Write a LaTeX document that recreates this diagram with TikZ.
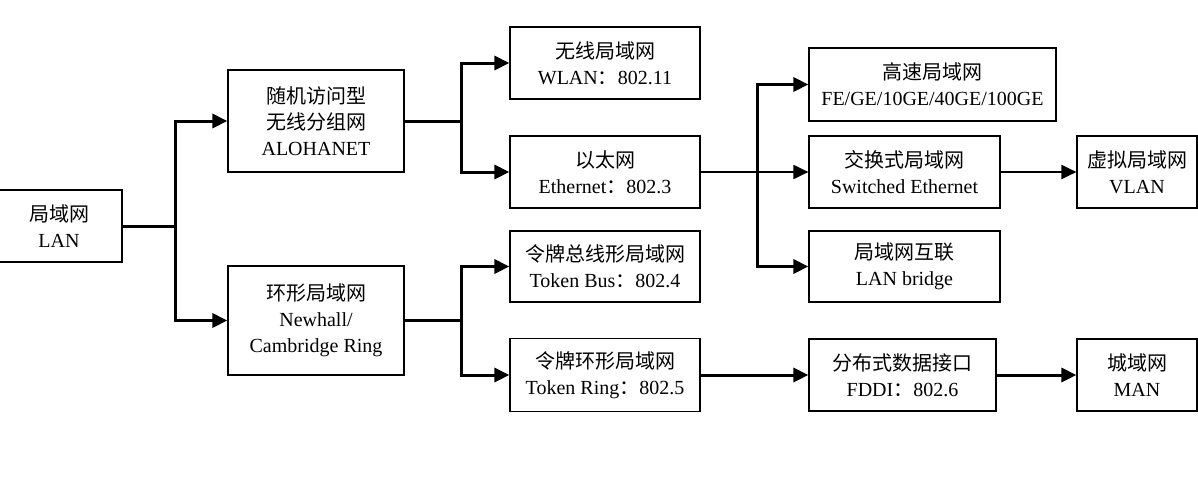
\documentclass[tikz,border=0pt]{standalone}
\usepackage{fontspec}
\setmainfont{Liberation Serif}
\newfontfamily\cjk{Noto Sans CJK SC}
\usetikzlibrary{arrows.meta}
\tikzset{
  netbox/.style={
    rectangle, draw=black, line width=0.6pt, fill=white,
    align=center, inner sep=1pt,
    font=\fontsize{10}{13}\selectfont
  },
  link/.style={
    -{Triangle[length=7.5pt,width=7pt]}, draw=black, line width=1.5pt
  },
  thinlink/.style={
    -{Triangle[length=7.5pt,width=7pt]}, draw=black, line width=1pt
  },
  bar/.style={draw=black, line width=1.5pt}
}
\newcommand{\zh}[1]{{\cjk #1}}

\begin{document}
\begin{tikzpicture}[x=0.5pt,y=-0.5pt]
  \useasboundingbox (0,0) rectangle (1198,487);

  \node[netbox, minimum width=63pt, minimum height=36pt] (lan) at (59,226) {\zh{局域网}\\LAN};
  \node[netbox, minimum width=88pt, minimum height=51pt] (aloha) at (316,121) {\zh{随机访问型}\\\zh{无线分组网}\\ALOHANET};
  \node[netbox, minimum width=88pt, minimum height=54.5pt] (ring) at (316,320.5) {\zh{环形局域网}\\Newhall/\\Cambridge Ring};
  \node[netbox, minimum width=95pt, minimum height=36pt] (wlan) at (605,63) {\zh{无线局域网}\\WLAN\zh{：}802.11};
  \node[netbox, minimum width=95pt, minimum height=36pt] (eth) at (605,172) {\zh{以太网}\\Ethernet\zh{：}802.3};
  \node[netbox, minimum width=95pt, minimum height=35.5pt] (tbus) at (605,266.5) {\zh{令牌总线形局域网}\\Token Bus\zh{：}802.4};
  \node[netbox, minimum width=95pt, minimum height=36.5pt] (tring) at (605,375) {\zh{令牌环形局域网}\\Token Ring\zh{：}802.5};
  \node[netbox, minimum width=123.5pt, minimum height=36.5pt] (fast) at (932.5,84.5) {\zh{高速局域网}\\FE/GE/10GE/40GE/100GE};
  \node[netbox, minimum width=95.5pt, minimum height=36pt] (switch) at (904.5,172) {\zh{交换式局域网}\\Switched Ethernet};
  \node[netbox, minimum width=95.5pt, minimum height=35.5pt] (bridge) at (904.5,266.5) {\zh{局域网互联}\\LAN bridge};
  \node[netbox, minimum width=93.5pt, minimum height=36pt] (fddi) at (902.5,375) {\zh{分布式数据接口}\\FDDI\zh{：}802.6};
  \node[netbox, minimum width=60pt, minimum height=36pt] (vlan) at (1137,172) {\zh{虚拟局域网}\\VLAN};
  \node[netbox, minimum width=60pt, minimum height=36pt] (man) at (1137,375) {\zh{城域网}\\MAN};

  % branch points
  \coordinate (j1) at (175,226);
  \coordinate (j2) at (461,121);
  \coordinate (j3) at (461,320.5);
  \coordinate (j4) at (757,172);

  % LAN to its two families
  \draw[bar] (lan.east) -- (j1);
  \draw[link] (j1) |- (aloha.west);
  \draw[link] (j1) |- (ring.west);

  % random access branch
  \draw[bar] (aloha.east) -- (j2);
  \draw[link] (j2) |- (wlan.west);
  \draw[link] (j2) |- (eth.west);

  % ring branch
  \draw[bar] (ring.east) -- (j3);
  \draw[link] (j3) |- (tbus.west);
  \draw[link] (j3) |- (tring.west);

  % Ethernet and its successors
  \draw[thinlink] (eth.east) -- (switch.west);
  \draw[link] (j4) |- (fast.west);
  \draw[link] (j4) |- (bridge.west);
  \draw[thinlink] (switch.east) -- (vlan.west);

  % token ring to MAN
  \draw[link] (tring.east) -- (fddi.west);
  \draw[link] (fddi.east) -- (man.west);
\end{tikzpicture}
\end{document}
